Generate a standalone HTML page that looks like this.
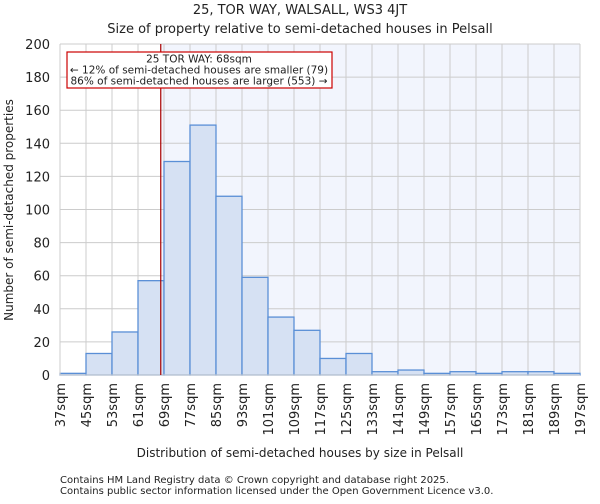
<!DOCTYPE html>
<html><head><meta charset="utf-8"><style>
body{margin:0;background:#fff;font-family:"DejaVu Sans","Liberation Sans",sans-serif}
svg text{font-family:"DejaVu Sans","Liberation Sans",sans-serif;fill:#222}
</style></head><body>
<svg id="chart" width="600" height="500" xmlns="http://www.w3.org/2000/svg">
<text x="300" y="14" font-size="13" text-anchor="middle">25, TOR WAY, WALSALL, WS3 4JT</text>
<text x="300" y="33" font-size="13" text-anchor="middle">Size of property relative to semi-detached houses in Pelsall</text>
<g id="grid"></g>
<g id="bars"></g>
<g id="axes"></g>
<text x="300" y="457" font-size="12" text-anchor="middle">Distribution of semi-detached houses by size in Pelsall</text>
<text transform="translate(13,210) rotate(-90)" font-size="12" text-anchor="middle">Number of semi-detached properties</text>
<text x="60" y="483" font-size="10">Contains HM Land Registry data © Crown copyright and database right 2025.</text>
<text x="60" y="494" font-size="10">Contains public sector information licensed under the Open Government Licence v3.0.</text>
</svg>
<script>
const binStarts=[37,45,53,61,69,77,85,93,101,109,117,125,133,141,149,157,165,173,181,189];
const counts=[1,13,26,57,129,151,108,59,35,27,10,13,2,3,1,2,1,2,2,1];
const yTicks=[0,20,40,60,80,100,120,140,160,180,200];
const propertySize=68;
const annotationLines=["25 TOR WAY: 68sqm","← 12% of semi-detached houses are smaller (79)","86% of semi-detached houses are larger (553) →"];
const NS="http://www.w3.org/2000/svg";
const X0=60,X1=580,Y0=375,Y1=44,binW=8;
const xMin=binStarts[0],xMax=binStarts[binStarts.length-1]+binW;
const xs=v=>X0+(v-xMin)/(xMax-xMin)*(X1-X0);
const ys=v=>Y0-v/200*(Y0-Y1);
function mk(tag,attrs,parent){const e=document.createElementNS(NS,tag);for(const k in attrs)e.setAttribute(k,attrs[k]);parent.appendChild(e);return e;}
const svg=document.getElementById('chart'),grid=document.getElementById('grid'),bars=document.getElementById('bars'),axes=document.getElementById('axes');
const hl=mk('rect',{x:xs(propertySize),y:Y1,width:X1-xs(propertySize),height:Y0-Y1,fill:'#f2f5fd'},grid);


yTicks.forEach(t=>{
 const l=mk('line',{x1:X0,x2:X1,y1:ys(t),y2:ys(t),stroke:'#ccc','stroke-width':1},grid);
 
 
 const tx=mk('text',{x:X0-10,y:ys(t)+5,'font-size':13,'text-anchor':'end'},axes);
 tx.textContent=t;
 
 
});
binStarts.concat([xMax]).forEach(b=>{
 const l=mk('line',{x1:xs(b),x2:xs(b),y1:Y1,y2:Y0,stroke:'#ccc','stroke-width':1},grid);
 
 
 const tx=mk('text',{'font-size':13,'text-anchor':'end',transform:`translate(${xs(b)+5},${Y0+8}) rotate(-90)`},axes);
 tx.textContent=b+'sqm';
 
 
});
binStarts.forEach((b,i)=>{
 const r=mk('rect',{x:xs(b),y:ys(counts[i]),width:xs(b+binW)-xs(b),height:Y0-ys(counts[i]),fill:'#d6e1f3',stroke:'#5a8fd6','stroke-width':1.3},bars);
 
 
});
const ax=mk('path',{d:`M${X0},${Y1}V${Y0}H${X1}`,fill:'none',stroke:'#ccc'},axes);


const ml=mk('line',{x1:xs(propertySize),x2:xs(propertySize),y1:Y1,y2:Y0,stroke:'#a00','stroke-width':1.2},axes);


const box=mk('rect',{x:67,y:52,width:265,height:36,fill:'#fff',stroke:'#c00','stroke-width':1.2},axes);


annotationLines.forEach((s,i)=>{
 const t=mk('text',{x:199,y:62.5+i*11,'font-size':10.5,'text-anchor':'middle'},axes);
 t.textContent=s;
 
 
});
</script>
</body></html>
